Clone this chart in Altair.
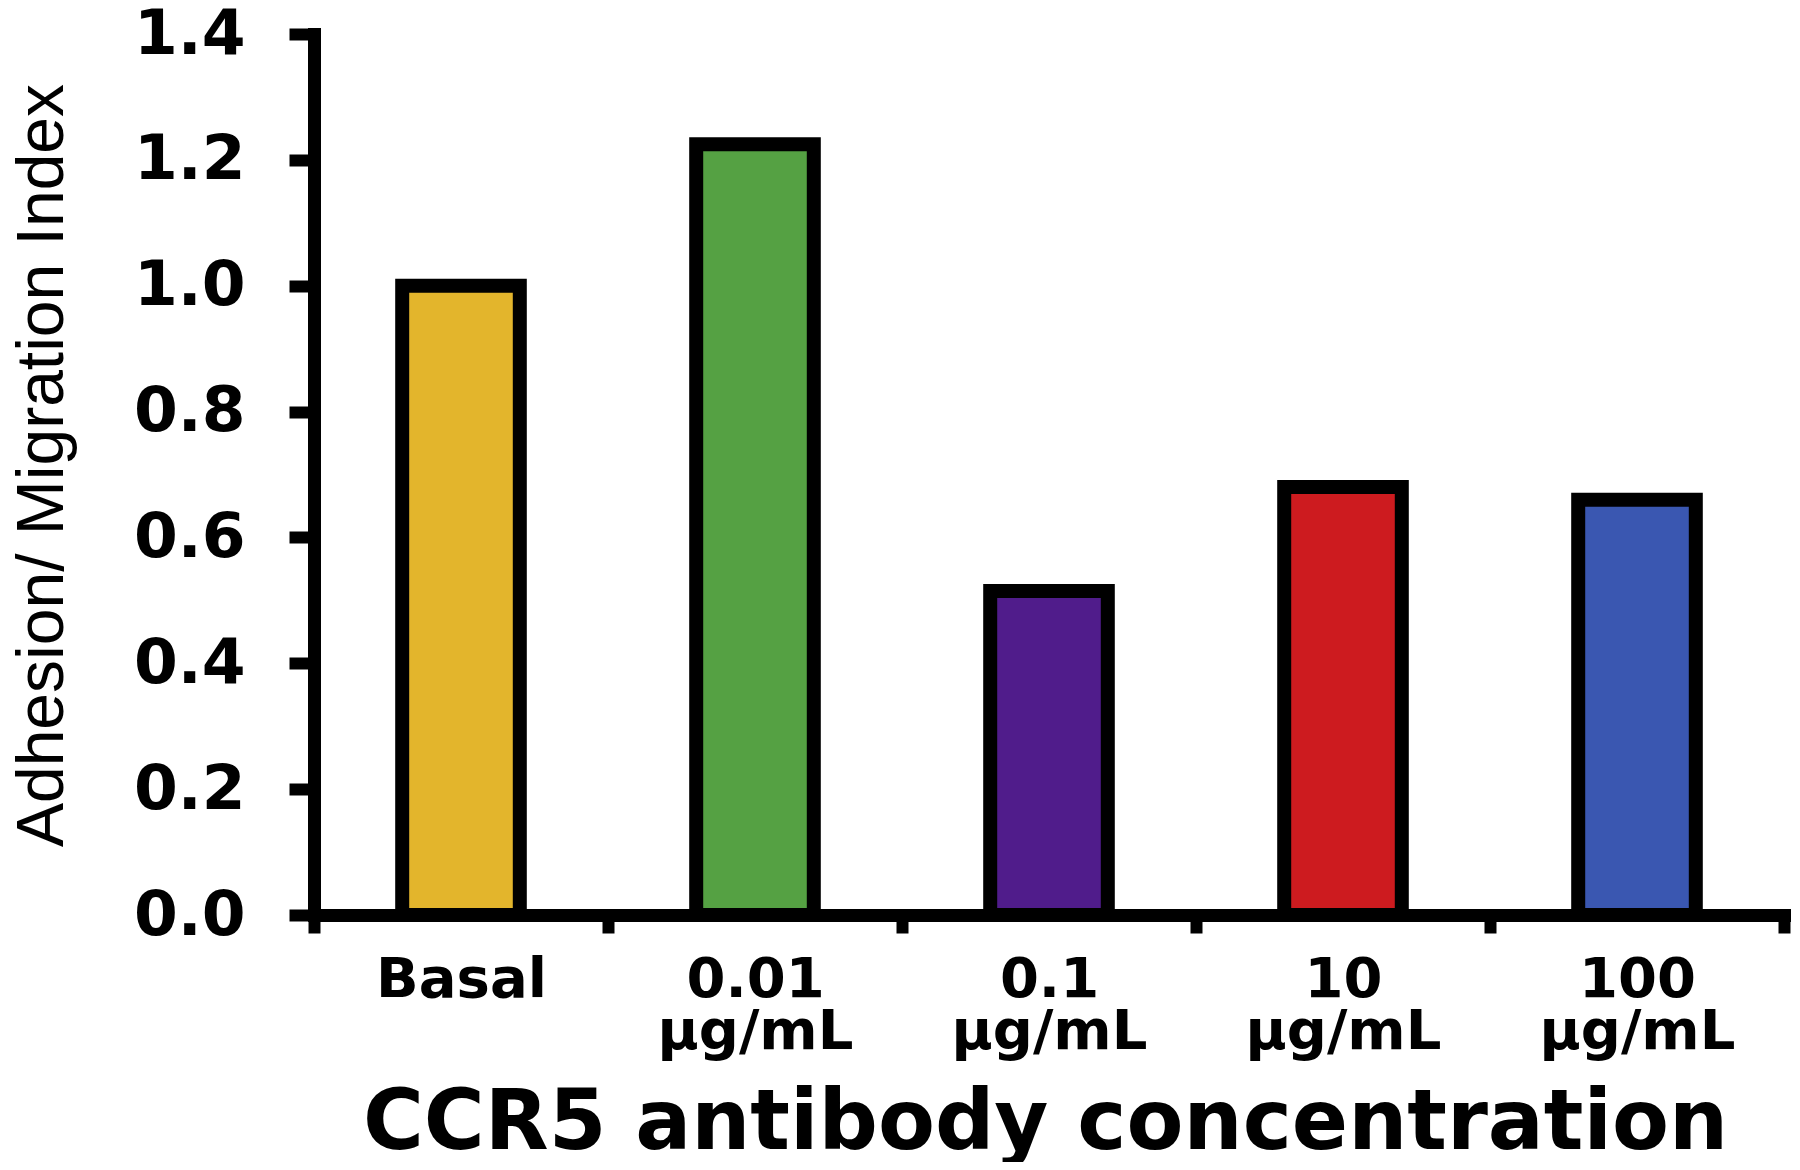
import altair as alt
import pandas as pd

categories = ["Basal", "0.01\nµg/mL", "0.1\nµg/mL", "10\nµg/mL", "100\nµg/mL"]
values = [1.0, 1.225, 0.515, 0.68, 0.66]
colors = ["#E3B52C", "#55A143", "#501C8B", "#CD1B1F", "#3A57B1"]
y_ticks = [0.0, 0.2, 0.4, 0.6, 0.8, 1.0, 1.2, 1.4]

df = pd.DataFrame({"cat": categories, "val": values})

bold_font = "DejaVu Sans"

chart = alt.Chart(df).mark_bar(
    width=alt.RelativeBandSize(0.4), stroke="black", strokeWidth=14, strokeJoin="miter"
).encode(
    x=alt.X(
        "cat:N",
        sort=categories,
        scale=alt.Scale(paddingInner=0, paddingOuter=0),
        axis=alt.Axis(
            title="CCR5 antibody concentration",
            titleFont=bold_font,
            titleFontWeight="bold",
            titleFontSize=83,
            titleColor="black",
            titleX=731,
            titleY=233,
            titleAlign="center",
            titleBaseline="alphabetic",
            labelExpr="split(datum.label, '\\n')",
            labelFont=bold_font,
            labelFontWeight="bold",
            labelFontSize=56,
            labelColor="black",
            labelAngle=0,
            labelBaseline="top",
            labelLineHeight=52,
            labelPadding=19,
            labelLimit=600,
            tickBand="extent",
            tickSize=18,
            tickWidth=12,
            tickColor="black",
            domainWidth=13,
            domainColor="black",
            domainCap="square",
            grid=False,
        ),
    ),
    y=alt.Y(
        "val:Q",
        scale=alt.Scale(domain=[0, 1.4], nice=False),
        axis=alt.Axis(
            title="Adhesion/ Migration Index",
            titleFont="Liberation Sans",
            titleFontWeight="normal",
            titleFontSize=66,
            titleColor="black",
            titleX=-252,
            titleY=431,
            titleAngle=270,
            titleAlign="center",
            titleBaseline="alphabetic",
            titleLimit=1200,
            values=y_ticks,
            format=".1f",
            labelFont=bold_font,
            labelFontWeight="bold",
            labelFontSize=63,
            labelColor="black",
            labelPadding=44,
            tickSize=25,
            tickWidth=12,
            tickColor="black",
            domainWidth=13,
            domainColor="black",
            domainCap="square",
            grid=False,
        ),
    ),
    color=alt.Color(
        "cat:N",
        scale=alt.Scale(domain=categories, range=colors),
        legend=None,
    ),
).properties(
    width=1470,
    height=881,
    autosize=alt.AutoSizeParams(type="none"),
    padding={"left": 306, "top": 26, "right": 8, "bottom": 247},
).configure_view(stroke=None)

chart.save("out.html", embed_options={"renderer": "svg", "actions": False})
